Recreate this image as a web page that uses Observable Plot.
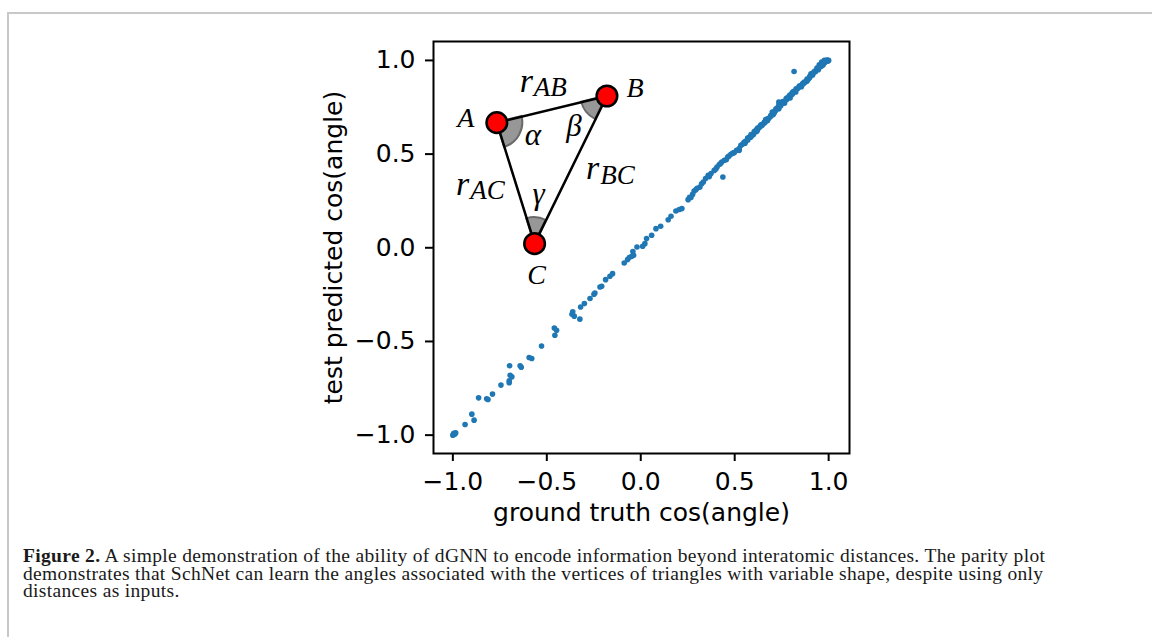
<!DOCTYPE html>
<html><head><meta charset="utf-8">
<script src="https://cdn.jsdelivr.net/npm/d3@7"></script>
<script src="https://cdn.jsdelivr.net/npm/@observablehq/plot@0.6"></script>
<style>
html,body{margin:0;padding:0;background:#fff;}
#page{position:relative;width:1152px;height:637px;overflow:hidden;background:#fff;}
#border{position:absolute;left:7px;top:12px;width:1300px;height:800px;border-top:2px solid #c8c8c8;border-left:2px solid #c8c8c8;}
#chart{position:absolute;left:0;top:0;}
#caption{position:absolute;left:23px;top:547px;font-family:"Liberation Serif",serif;font-size:19.5px;letter-spacing:0.33px;line-height:17.5px;color:#1a1a1a;white-space:nowrap;}
</style></head><body>
<div id="page">
<div id="border"></div>
<div id="chart"></div>
<div id="caption"><b>Figure 2.</b> A simple demonstration of the ability of dGNN to encode information beyond interatomic distances. The parity plot<br>demonstrates that SchNet can learn the angles associated with the vertices of triangles with variable shape, despite using only<br>distances as inputs.</div>
</div>
<script>
// ---- data ----
const truth = [
 -1.0,-0.995,-0.99,-0.985,-0.935,-0.887,-0.899,-0.863,-0.82,-0.813,-0.789,-0.744,-0.70,-0.70,-0.695,-0.686,-0.698,-0.642,-0.636,-0.594,-0.58,-0.528,-0.457,-0.46,-0.448,-0.366,-0.354,-0.362,-0.324,-0.32,-0.30,-0.27,-0.249,-0.244,-0.217,-0.208,-0.187,-0.164,-0.15,-0.088,-0.07,-0.061,-0.048,-0.038,
 -0.042,-0.02,0.01,0.022,0.031,0.058,0.081,0.106,0.146,0.161,0.187,0.205,0.219,0.252,0.267,0.276,0.284,0.293,0.315,0.324,0.333,0.359,0.374,0.391,0.406,0.418,0.431,0.445,0.463,0.437,0.48,0.498,
 0.26,0.30,0.345,0.365,0.40,0.425,0.455,0.47,0.49,0.51,
 0.524,0.542,0.56,0.578,0.524,0.533,0.551,0.569,0.587,0.604,0.622,0.64,0.658,0.675,0.693,0.708,0.72,0.738,0.756,0.774,0.791,0.809,0.827,0.844,0.862,0.88,0.897,0.906,0.924,0.938,0.95,0.963,0.977,0.99,1.0,0.995,0.985,0.97,
 0.816,
 0.60,0.615,0.63,0.65,0.665,0.68,0.70,0.715,0.73,0.745,0.76,0.78,0.80,0.815,0.835,0.85,0.87,0.885,0.90,0.915,0.93,0.945,0.955,0.965,0.975,0.985,0.995,0.70,0.735,0.735,0.74,
 0.555,0.585,0.615,0.645,0.675,0.705,0.735,0.765,0.795,0.825,0.855,0.885,0.915,0.945,0.97,
 0.62,0.66,0.69,0.72,0.75,0.78,0.81,0.84,0.87,0.90,0.93,0.96,0.98,0.55,0.57,0.59,0.635,0.665,0.71,0.745,0.775,0.805,0.86,0.89,0.92,0.95
];
const pred = [
 -1.0,-0.99,-0.995,-0.988,-0.943,-0.92,-0.888,-0.801,-0.806,-0.81,-0.781,-0.733,-0.72,-0.71,-0.68,-0.689,-0.63,-0.63,-0.638,-0.586,-0.591,-0.524,-0.467,-0.428,-0.44,-0.355,-0.365,-0.342,-0.381,-0.316,-0.298,-0.271,-0.248,-0.241,-0.209,-0.205,-0.17,-0.152,-0.138,-0.081,-0.063,-0.052,-0.045,-0.04,
 -0.02,0.004,0.008,0.022,0.049,0.067,0.102,0.115,0.15,0.168,0.196,0.204,0.209,0.257,0.268,0.285,0.303,0.31,0.324,0.342,0.351,0.387,0.396,0.413,0.431,0.444,0.458,0.467,0.484,0.378,0.499,0.508,
 0.27,0.318,0.37,0.38,0.42,0.45,0.47,0.49,0.505,0.52,
 0.529,0.552,0.57,0.591,0.52,0.547,0.564,0.586,0.604,0.621,0.639,0.657,0.671,0.689,0.707,0.724,0.742,0.769,0.781,0.796,0.813,0.831,0.849,0.863,0.876,0.888,0.906,0.929,0.941,0.959,0.977,0.991,1.0,1.002,1.0,0.996,0.993,0.98,
 0.941,
 0.605,0.63,0.64,0.66,0.685,0.69,0.71,0.73,0.75,0.765,0.775,0.80,0.82,0.835,0.85,0.865,0.88,0.90,0.915,0.93,0.945,0.96,0.97,0.975,0.985,0.998,1.0,0.725,0.76,0.778,0.772,
 0.558,0.59,0.62,0.652,0.68,0.712,0.742,0.772,0.80,0.832,0.86,0.89,0.922,0.95,0.975,
 0.625,0.668,0.70,0.735,0.77,0.795,0.825,0.855,0.885,0.91,0.94,0.968,0.99,0.56,0.575,0.598,0.648,0.675,0.72,0.758,0.79,0.818,0.872,0.898,0.935,0.962
];
// inset triangle (in data coordinates of the axes)
const vertexNames = ["A", "B", "C"];
const vertexX = [-0.766, -0.180, -0.565];
const vertexY = [0.668, 0.810, 0.022];
const angleNames = ["α", "β", "γ"];
const edgeFrom = [0, 0, 1];
const edgeTo = [1, 2, 2];
const edgeSubs = ["AB", "AC", "BC"];
const xTicks = [-1.0, -0.5, 0.0, 0.5, 1.0];
const yTicks = [-1.0, -0.5, 0.0, 0.5, 1.0];

// ---- layout / style ----
const vertexOff = [[-31, 4.4], [28, 1], [2, 40]];
const angleOff = [[36, 22.7], [-33, 40], [4, -40]];
const edgeOff = [[-19, -17.3, -13.3], [-46.4, 12.2, 16], [28.6, 8.8, 13.8]];
const serif = "Liberation Serif";
const R = 26;

function wedges(index, scales) {
  const g = d3.create("svg:g");
  const P = vertexX.map((x, i) => [scales.x(x), scales.y(vertexY[i])]);
  P.forEach((c, i) => {
    const o = [0, 1, 2].filter(j => j !== i);
    const a1 = Math.atan2(P[o[0]][1] - c[1], P[o[0]][0] - c[0]);
    const a2 = Math.atan2(P[o[1]][1] - c[1], P[o[1]][0] - c[0]);
    let d = a2 - a1;
    while (d > Math.PI) d -= 2 * Math.PI;
    while (d <= -Math.PI) d += 2 * Math.PI;
    const p1 = [c[0] + R * Math.cos(a1), c[1] + R * Math.sin(a1)];
    const p2 = [c[0] + R * Math.cos(a2), c[1] + R * Math.sin(a2)];
    g.append("path")
      .attr("d", `M${c[0]},${c[1]}L${p1[0]},${p1[1]}A${R},${R} 0 0 ${d > 0 ? 1 : 0} ${p2[0]},${p2[1]}Z`)
      .attr("fill", "#979797")
      .attr("stroke", "#6a6a6a")
      .attr("stroke-width", 2);
  });
  return g.node();
}

const idx = [0, 1, 2];
const labelMarks = [];
idx.forEach(i => {
  labelMarks.push(Plot.text([i], {x: d => vertexX[d], y: d => vertexY[d], text: d => vertexNames[d],
    dx: vertexOff[i][0], dy: vertexOff[i][1], lineAnchor: "bottom", textAnchor: "middle",
    fontFamily: serif, fontStyle: "italic", fontSize: 28, fill: "black"}));
  labelMarks.push(Plot.text([i], {x: d => vertexX[d], y: d => vertexY[d], text: d => angleNames[d],
    dx: angleOff[i][0], dy: angleOff[i][1], lineAnchor: "bottom", textAnchor: "middle",
    fontFamily: serif, fontStyle: "italic", fontSize: 31, fill: "black"}));
  const mx = d => (vertexX[edgeFrom[d]] + vertexX[edgeTo[d]]) / 2;
  const my = d => (vertexY[edgeFrom[d]] + vertexY[edgeTo[d]]) / 2;
  labelMarks.push(Plot.text([i], {x: mx, y: my, text: () => "r",
    dx: edgeOff[i][0], dy: edgeOff[i][1], lineAnchor: "bottom", textAnchor: "end",
    fontFamily: serif, fontStyle: "italic", fontSize: 34, fill: "black"}));
  labelMarks.push(Plot.text([i], {x: mx, y: my, text: d => edgeSubs[d],
    dx: edgeOff[i][0] + 1, dy: edgeOff[i][2], lineAnchor: "bottom", textAnchor: "start",
    fontFamily: serif, fontStyle: "italic", fontSize: 27, fill: "black"}));
});

const chart = Plot.plot({
  width: 1152,
  height: 535,
  marginTop: 41,
  marginBottom: 82,
  marginLeft: 433,
  marginRight: 303,
  style: {fontFamily: "DejaVu Sans", fontSize: "25px", color: "black", background: "transparent"},
  x: {domain: [-1.103, 1.111]},
  y: {domain: [-1.098, 1.101]},
  marks: [
    Plot.dot(truth, {x: d => d, y: pred, r: 2.8, fill: "#1f77b4"}),
    wedges,
    Plot.line([0, 1, 2, 0], {x: d => vertexX[d], y: d => vertexY[d], stroke: "black", strokeWidth: 2.5}),
    Plot.dot(idx, {x: d => vertexX[d], y: d => vertexY[d], r: 10.3, fill: "#ff0000", stroke: "black", strokeWidth: 2.5}),
    ...labelMarks,
    Plot.frame({stroke: "black", strokeWidth: 2}),
    Plot.axisX({ticks: xTicks, tickSize: 8, tickPadding: 11, tickFormat: d3.format(".1f"), fontSize: 25, strokeWidth: 2, label: null}),
    Plot.axisY({ticks: yTicks, tickSize: 8, tickPadding: 10, tickFormat: d3.format(".1f"), fontSize: 25, strokeWidth: 2, label: null}),
    Plot.text(["ground truth cos(angle)"], {frameAnchor: "bottom", text: d => d, dy: 59, lineAnchor: "middle", textAnchor: "middle", fontSize: 25, fontFamily: "DejaVu Sans", fill: "black"}),
    Plot.text(["test predicted cos(angle)"], {frameAnchor: "left", text: d => d, dx: -100, rotate: -90, lineAnchor: "middle", textAnchor: "middle", fontSize: 25, fontFamily: "DejaVu Sans", fill: "black"})
  ]
});
document.getElementById("chart").appendChild(chart);
</script>
</body></html>
